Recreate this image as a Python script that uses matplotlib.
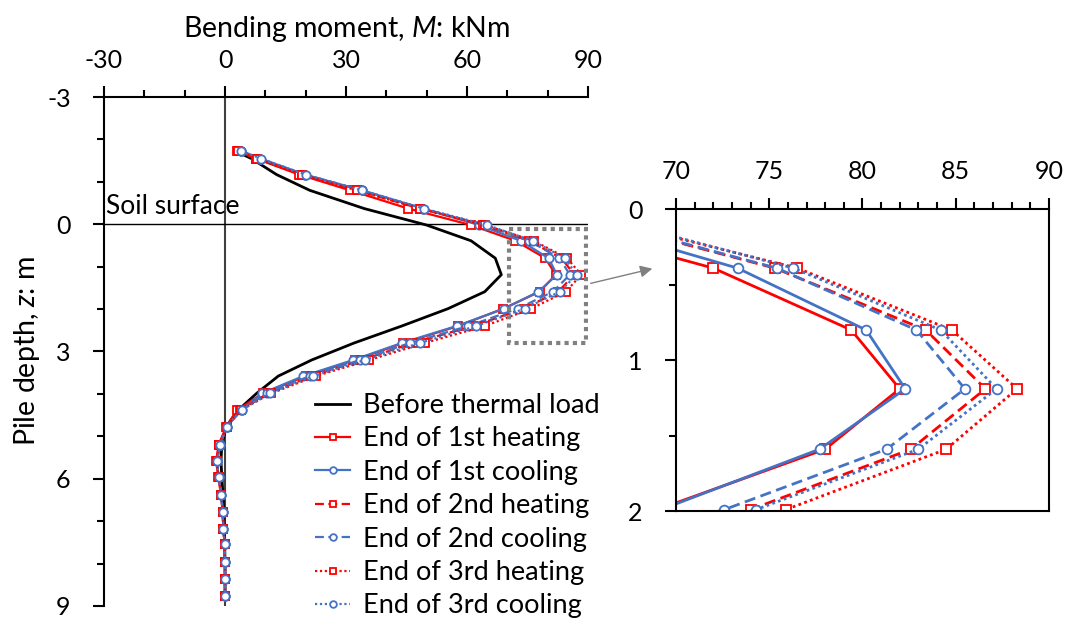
import numpy as np
import matplotlib
matplotlib.use("Agg")
import matplotlib.pyplot as plt
from matplotlib.patches import Rectangle, FancyArrowPatch

plt.rcParams['font.family'] = ['Lato', 'DejaVu Sans']
plt.rcParams['mathtext.fontset'] = 'custom'
plt.rcParams['mathtext.it'] = 'Lato:italic'
plt.rcParams['mathtext.rm'] = 'Lato'
plt.rcParams['axes.unicode_minus'] = False

# pile depth of the gauges, m
depth = [-1.73, -1.55, -1.17, -0.80, -0.37, 0.02, 0.39, 0.80, 1.19, 1.59, 1.99,
         2.40, 2.80, 3.20, 3.58, 3.99, 4.38, 4.77, 5.20, 5.58, 5.95, 6.38, 6.78,
         7.18, 7.55, 7.96, 8.37, 8.76]

# bending moment, kNm
before = [2.5, 6.5, 12.8, 21.0, 34.5, 50.0, 61.0, 67.0, 68.5, 64.4, 55.3,
          43.8, 32.0, 21.5, 13.2, 7.8, 3.3, 0.3, -0.8, -1.0, -0.8, -0.5, -0.3,
          -0.2, -0.1, 0.0, 0.0, 0.0]
heat1 = [3.0, 7.6, 18.4, 31.0, 45.4, 61.0, 72.0, 79.4, 82.0, 78.0, 69.0,
         57.8, 44.2, 32.2, 20.0, 9.3, 3.0, 0.3, -1.6, -2.2, -1.7, -1.0, -0.6,
         -0.4, -0.1, 0.0, 0.0, 0.0]
cool1 = [3.9, 8.7, 19.8, 33.9, 49.1, 63.0, 73.3, 80.2, 82.3, 77.7, 69.2,
         57.4, 43.8, 31.8, 19.4, 9.1, 4.1, 0.4, -1.2, -2.0, -1.6, -0.9, -0.6,
         -0.4, -0.1, 0.0, 0.0, 0.0]
heat2 = [3.2, 7.8, 19.0, 32.6, 48.3, 64.0, 75.3, 83.4, 86.6, 82.6, 74.0,
         61.5, 46.5, 34.0, 21.5, 10.6, 3.8, 0.4, -1.4, -2.1, -1.6, -0.9, -0.6,
         -0.4, -0.1, 0.0, 0.0, 0.0]
cool2 = [3.9, 8.7, 19.8, 33.9, 49.1, 64.2, 75.4, 82.9, 85.5, 81.3, 72.6,
         60.3, 45.8, 33.5, 21.0, 10.3, 4.0, 0.4, -1.2, -2.0, -1.6, -0.9, -0.6,
         -0.4, -0.1, 0.0, 0.0, 0.0]
heat3 = [3.3, 8.0, 19.2, 32.6, 48.3, 64.5, 76.5, 84.8, 88.3, 84.5, 75.9,
         64.4, 49.5, 35.8, 22.5, 11.4, 3.9, 0.4, -1.4, -2.1, -1.6, -0.9, -0.6,
         -0.4, -0.1, 0.0, 0.0, 0.0]
cool3 = [4.0, 8.8, 20.0, 34.0, 49.3, 65.0, 76.3, 84.2, 87.2, 83.0, 74.3,
         62.3, 48.3, 34.7, 21.9, 11.1, 4.1, 0.4, -1.2, -2.0, -1.6, -0.9, -0.6,
         -0.4, -0.1, 0.0, 0.0, 0.0]

labels = ['End of 1st heating', 'End of 1st cooling', 'End of 2nd heating',
          'End of 2nd cooling', 'End of 3rd heating', 'End of 3rd cooling']
series = [heat1, cool1, heat2, cool2, heat3, cool3]

red = '#FF0000'
blue = '#4472C4'
styles = [(red, '-', 's'), (blue, '-', 'o'), (red, (0, (4, 2)), 's'),
          (blue, (0, (4, 2)), 'o'), (red, (0, (1, 1.2)), 's'), (blue, (0, (1, 1.2)), 'o')]

fs_tick = 18
fs_lab = 20.5
fig = plt.figure(figsize=(10.68, 6.21), dpi=100)

# main plot
ax = fig.add_axes([0.0974, 0.0242, 0.4532, 0.8196])
ax.axvline(0, color='#404040', lw=1.5, zorder=1)
ax.axhline(0, color='black', lw=1.0, zorder=1)
ax.plot(before, depth, color='black', lw=2, label='Before thermal load', zorder=2)
for vals, lab, (c, ls, mk) in zip(series, labels, styles):
    ax.plot(vals, depth, color=c, ls=ls, lw=1.6, marker=mk, ms=6, mfc='white',
            mec=c, mew=1.3, label=lab, zorder=3)
ax.set_xlim(-30, 90)
ax.set_ylim(9, -3)
ax.set_xticks([-30, 0, 30, 60, 90])
ax.set_xticks(np.arange(-30, 91, 10), minor=True)
ax.set_yticks([-3, 0, 3, 6, 9])
ax.set_yticks(np.arange(-3, 10, 1), minor=True)
ax.xaxis.tick_top()
ax.xaxis.set_label_position('top')
for s in ['right', 'bottom']:
    ax.spines[s].set_visible(False)
for s in ['top', 'left']:
    ax.spines[s].set_linewidth(1.5)
ax.tick_params(which='major', length=8, width=1.5, labelsize=fs_tick)
ax.tick_params(axis='x', which='major', pad=10)
ax.tick_params(axis='y', which='major', pad=16)
ax.tick_params(which='minor', length=5, width=1.5)
ax.set_xlabel('Bending moment, $M$: kNm', fontsize=fs_lab, labelpad=9)
ax.set_ylabel('Pile depth, $z$: m', fontsize=fs_lab, labelpad=4)
ax.text(-29.5, -0.12, 'Soil surface', fontsize=19, va='bottom', ha='left')
ax.add_patch(Rectangle((70.5, 0.12), 19.0, 2.68, fill=False, ec='#808080',
                       lw=3, ls=(0, (1, 1)), zorder=4))

leg = fig.legend(loc='upper left', bbox_to_anchor=(0.295, 0.367), frameon=False,
                 fontsize=19.5, handlelength=1.3, handletextpad=0.48,
                 labelspacing=0.31, borderpad=0, borderaxespad=0, markerscale=0.8)

# close-up of the peak
ins = fig.add_axes([0.633, 0.177, 0.349, 0.486])
for vals, (c, ls, mk) in zip(series, styles):
    ins.plot(vals, depth, color=c, ls=ls, lw=2, marker=mk, ms=7, mfc='white',
             mec=c, mew=1.3)
ins.set_xlim(70, 90)
ins.set_ylim(2, 0)
ins.set_xticks([70, 75, 80, 85, 90])
ins.set_xticks(np.arange(70, 91, 1), minor=True)
ins.set_yticks([0, 1, 2])
ins.set_yticks([0.5, 1.5], minor=True)
ins.xaxis.tick_top()
for s in ins.spines.values():
    s.set_linewidth(1.5)
ins.tick_params(which='major', length=8, width=1.5, labelsize=fs_tick)
ins.tick_params(axis='x', which='major', pad=11)
ins.tick_params(axis='y', which='major', pad=16)
ins.tick_params(which='minor', length=5, width=1.5)

fig.patches.append(FancyArrowPatch(
    (588 / 1068, 1 - 284 / 621), (655 / 1068, 1 - 268 / 621),
    transform=fig.transFigure, arrowstyle='-|>', mutation_scale=18,
    color='#808080', lw=1))

fig.savefig('out.png', dpi=100)
